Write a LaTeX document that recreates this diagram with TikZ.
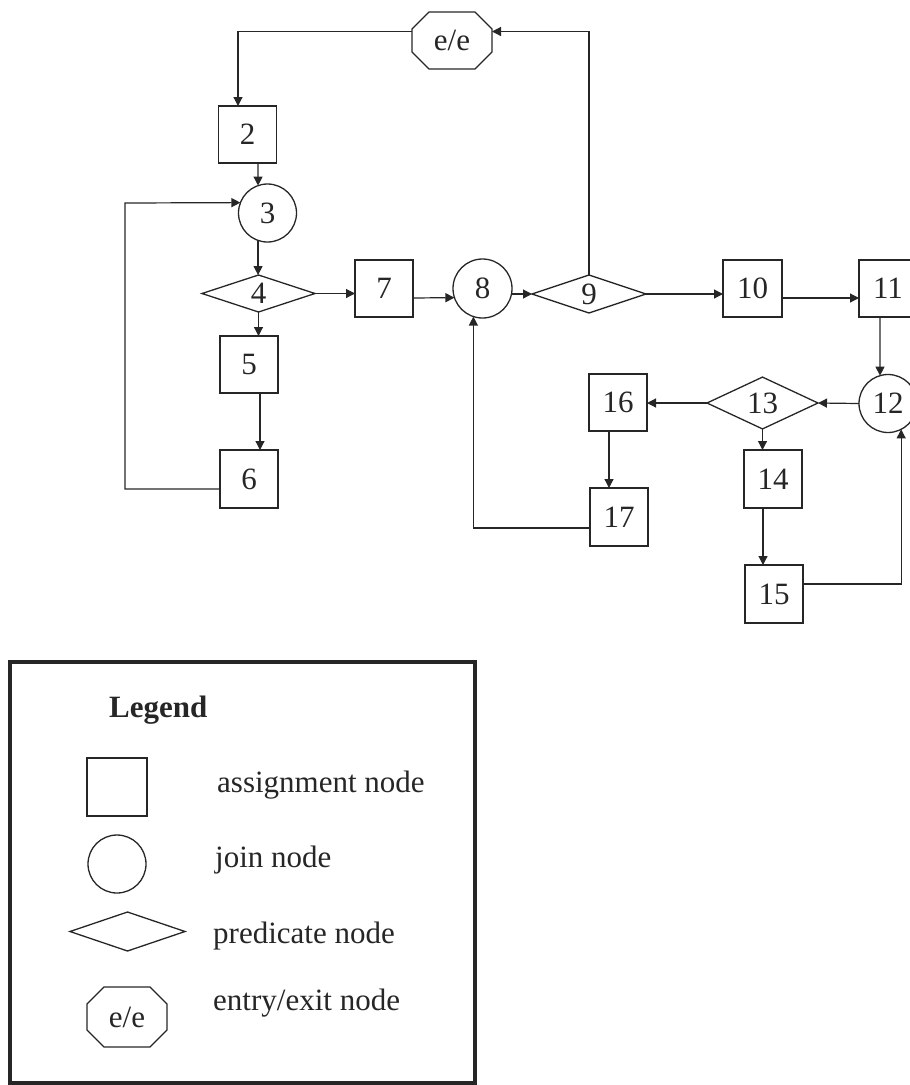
\documentclass[tikz,border=0pt]{standalone}
\usepackage{fontspec}
\setmainfont{Liberation Serif}
\usetikzlibrary{arrows.meta,shapes.geometric}

% Border of an entry/exit node: an octagon cut from the node's bounding rectangle
\newcommand{\octframe}[1]{%
  \draw[shapeline] ([xshift=17pt]#1.north west) -- ([xshift=-17pt]#1.north east)
    -- ([yshift=-17pt]#1.north east) -- ([yshift=17pt]#1.south east)
    -- ([xshift=-17pt]#1.south east) -- ([xshift=17pt]#1.south west)
    -- ([yshift=17pt]#1.south west) -- ([yshift=-17pt]#1.north west) -- cycle;}

\tikzset{
  shapeline/.style={line width=1.3pt, black!85},
  lbl/.style={font=\fontsize{31}{36}\selectfont, text=black!85},
  assignnode/.style={lbl, shapeline, draw, rectangle, minimum width=58pt, minimum height=57pt, inner sep=0pt, outer sep=0pt},
  joinnode/.style={lbl, shapeline, draw, circle, minimum size=58pt, inner sep=0pt, outer sep=0pt},
  prednode/.style={lbl, shapeline, draw, diamond, minimum width=113pt, minimum height=37pt, inner sep=0pt, outer sep=0pt},
  eenode/.style={lbl, rectangle, minimum width=80pt, minimum height=57pt, inner sep=0pt, outer sep=0pt},
  arr/.style={line width=1.2pt, black!85, -{Triangle[length=9pt,width=9pt]}},
  legtext/.style={lbl, anchor=base west, inner sep=0pt},
}

\begin{document}
\begin{tikzpicture}[x=1pt, y=-1pt]
\useasboundingbox (0,0) rectangle (910,1085);

% ---- control flow graph ----
\node[eenode] (ee) at (452,40.5) {e/e};
\octframe{ee}
\node[assignnode] (n2)  at (247.5,134.5) {2};
\node[joinnode]   (n3)  at (267.5,213)   {3};
\node[prednode]   (n4)  at (258.5,293.5) {4};
\node[assignnode] (n5)  at (249,364.5)   {5};
\node[assignnode, minimum height=58pt] (n6)  at (249,479) {6};
\node[assignnode] (n7)  at (384,288.5)   {7};
\node[joinnode, minimum size=59pt] (n8) at (482.5,288.5) {8};
\node[prednode, minimum width=114pt, minimum height=38pt] (n9) at (589,294) {9};
\node[assignnode, minimum width=59pt] (n10) at (752.5,288.5) {10};
\node[assignnode] (n11) at (888,288.5)   {11};
\node[joinnode]   (n12) at (888,403.5)   {12};
\node[prednode, minimum width=111pt, minimum height=38pt] (n13) at (762.5,403) {13};
\node[assignnode, minimum height=58pt] (n14) at (773,479) {14};
\node[assignnode, minimum height=58pt] (n15) at (774,594) {15};
\node[assignnode] (n16) at (618,402.5)   {16};
\node[assignnode, minimum height=58pt] (n17) at (619,517) {17};

\coordinate (loop6) at (125,203);

\draw[arr] (n9.north) |- ([yshift=9pt]ee.east);
\draw[arr] ([yshift=9pt]ee.west) -| ([xshift=-9.5pt]n2.north);
\draw[arr] ([xshift=10.5pt]n2.south) -- (n3.109);
\draw[arr] (n3.-109) -- (n3.-109 |- n4.north);
\draw[arr] (n4.east) -- (n4.east -| n7.west);
\draw[arr] (n4.south) -- (n4.south |- n5.north);
\draw[arr] ([xshift=11pt]n5.south) -- ([xshift=11pt]n6.north);
\draw[arr] ([yshift=-10pt]n6.west) -| (loop6) -- (n3.159.8);
\draw[arr] ([yshift=-9.5pt]n7.east) -- (n8.198.8);
\draw[arr] (n8.east |- n9.west) -- (n9.west);
\draw[arr] (n9.east) -- (n9.east -| n10.west);
\draw[arr] ([yshift=-9.5pt]n10.east) -- ([yshift=-9.5pt]n11.west);
\draw[arr] ([xshift=-8pt]n11.south) -- (n12.106);
\draw[arr] (n12.west) -- (n13.east);
\draw[arr] (n13.west) -- (n13.west -| n16.east);
\draw[arr] (n13.south) -- (n13.south |- n14.north);
\draw[arr] ([xshift=-10pt]n14.south) -- ([xshift=-10pt]n14.south |- n15.north);
\draw[arr] ([yshift=10pt]n15.east) -| (n12.-63.4);
\draw[arr] ([xshift=-9pt]n16.south) -- ([xshift=-9pt]n16.south |- n17.north);
\draw[arr] ([yshift=-11pt]n17.west) -| (n8.-108);

% ---- legend ----
\draw[line width=4pt, black!85] (10,662) rectangle (475,1083);
\node[legtext, font=\fontsize{31}{36}\selectfont\bfseries] (legtitle) at (109,717) {Legend};
\node[assignnode, minimum width=60pt, minimum height=58pt] (lsq) at (117,787) {};
\node[joinnode] (lci) at (117,864) {};
\node[prednode, minimum width=115pt, minimum height=39pt] (ldi) at (127.5,931.5) {};
\node[eenode, minimum height=60pt] (lee) at (127,1017) {e/e};
\octframe{lee}
\node[legtext] (tsq) at (217,792)  {assignment node};
\node[legtext] (tci) at (215,867)  {join node};
\node[legtext] (tdi) at (213,943)  {predicate node};
\node[legtext] (tee) at (213,1010) {entry/exit node};
\end{tikzpicture}
\end{document}
